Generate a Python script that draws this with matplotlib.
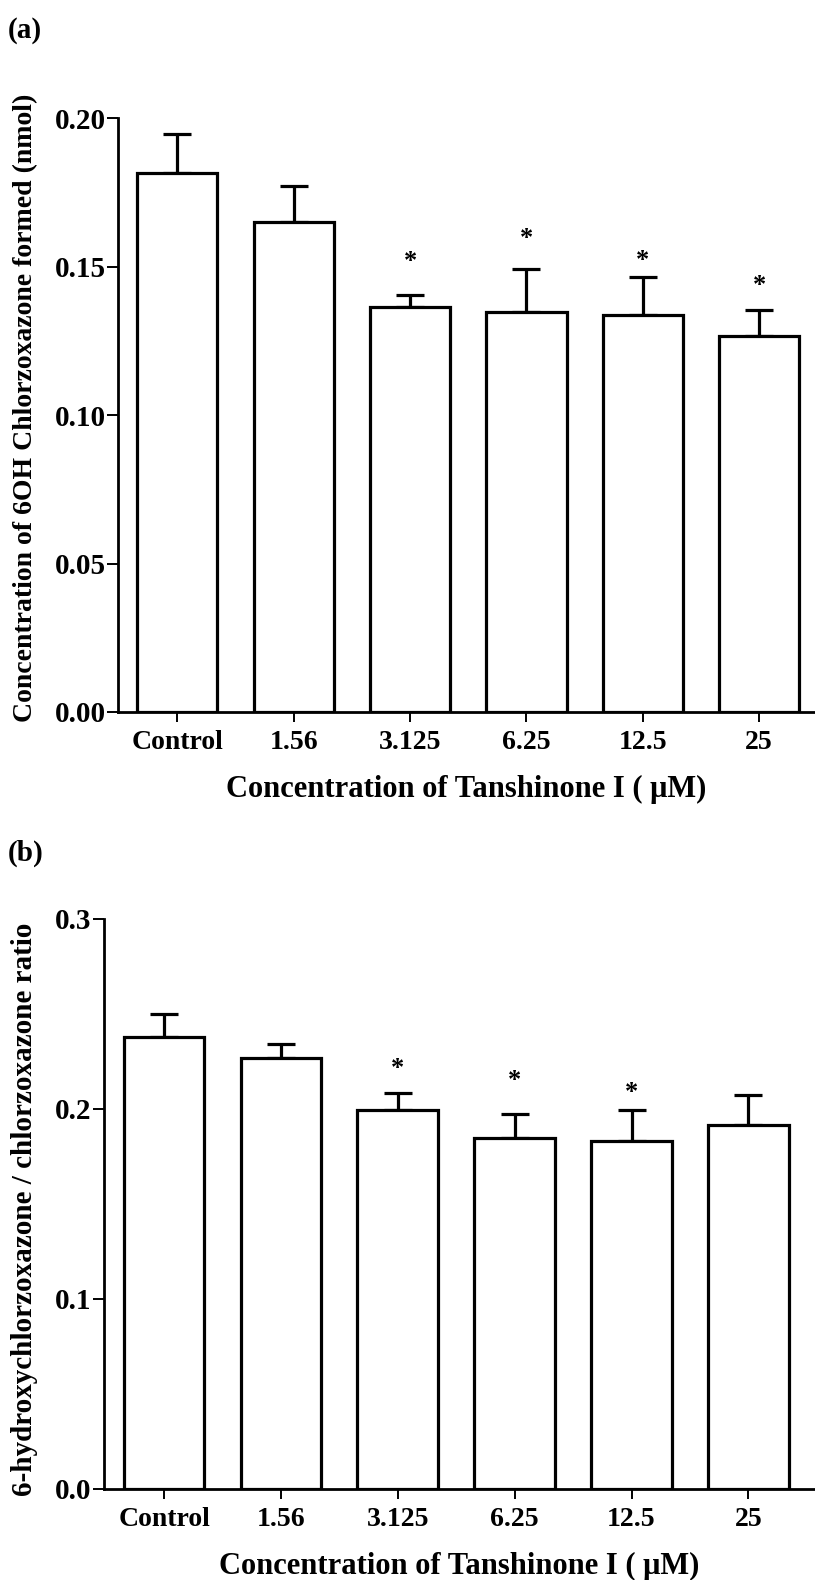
import numpy as np
import matplotlib.pyplot as plt

plt.rcParams['font.family'] = 'Liberation Serif'
plt.rcParams['font.weight'] = 'bold'
plt.rcParams['axes.labelweight'] = 'bold'

groups = ['Control', '1.56', '3.125', '6.25', '12.5', '25']

# panel (a): 6OH chlorzoxazone formed (nmol)
a_mean = [0.1817, 0.1652, 0.1365, 0.1347, 0.1336, 0.1267]
a_sem = [0.0131, 0.0121, 0.0041, 0.0146, 0.0131, 0.0087]
a_star = [None, None, 0.154, 0.162, 0.1546, 0.146]

# panel (b): 6-hydroxychlorzoxazone / chlorzoxazone ratio
b_mean = [0.2378, 0.2266, 0.1993, 0.1845, 0.1833, 0.1914]
b_sem = [0.0123, 0.0074, 0.0092, 0.0127, 0.0160, 0.0158]
b_star = [None, None, 0.2248, 0.2186, 0.2123, None]

xlab = 'Concentration of Tanshinone I ( \u03bcM)'

fig = plt.figure(figsize=(8.15, 15.8), dpi=100)


def panel(ax, mean, sem, star, ymax, ticks, fmt, xlim):
    x = np.arange(len(groups))
    ax.bar(x, mean, width=0.69, color='white', edgecolor='black',
           linewidth=2.3, zorder=3)
    ax.errorbar(x, mean, yerr=[np.zeros(len(sem)), sem], fmt='none',
                ecolor='black', elinewidth=2.3, capsize=10, capthick=2.3,
                zorder=2)
    for i, s in enumerate(star):
        if s is not None:
            ax.annotate('*', (x[i], s), xytext=(0, -5),
                        textcoords='offset points', ha='center',
                        va='center', fontsize=19)
    ax.set_xlim(*xlim)
    ax.set_ylim(0, ymax)
    ax.set_yticks(ticks)
    ax.set_yticklabels([fmt % t for t in ticks])
    ax.set_xticks(x)
    ax.set_xticklabels(groups)
    for sp in ['top', 'right']:
        ax.spines[sp].set_visible(False)
    for sp in ['left', 'bottom']:
        ax.spines[sp].set_linewidth(2.0)
    ax.tick_params(axis='y', length=8, width=1.4, labelsize=21, pad=1)
    ax.tick_params(axis='x', length=7, width=1.4, labelsize=20, pad=6)
    ax.set_xlabel(xlab, fontsize=22, labelpad=14)


ax1 = fig.add_axes([0.1448, 0.5494, 0.8552, 0.3757])
panel(ax1, a_mean, a_sem, a_star, 0.20, [0.0, 0.05, 0.10, 0.15, 0.20],
      '%.2f', (-0.51, 5.48))
ax1.set_ylabel('Concentration of 6OH Chlorzoxazone formed (nmol)',
               fontsize=20)
ax1.yaxis.set_label_coords(-0.114, 0.512)

ax2 = fig.add_axes([0.1276, 0.0576, 0.8724, 0.3609])
panel(ax2, b_mean, b_sem, b_star, 0.30, [0.0, 0.1, 0.2, 0.3],
      '%.1f', (-0.514, 5.57))
ax2.set_ylabel('6-hydroxychlorzoxazone / chlorzoxazone ratio',
               fontsize=21)
ax2.yaxis.set_label_coords(-0.093, 0.49)

fig.text(0.01, 0.981, '(a)', fontsize=21, va='center')
fig.text(0.01, 0.46, '(b)', fontsize=21, va='center')

fig.savefig('out.png', dpi=100)
